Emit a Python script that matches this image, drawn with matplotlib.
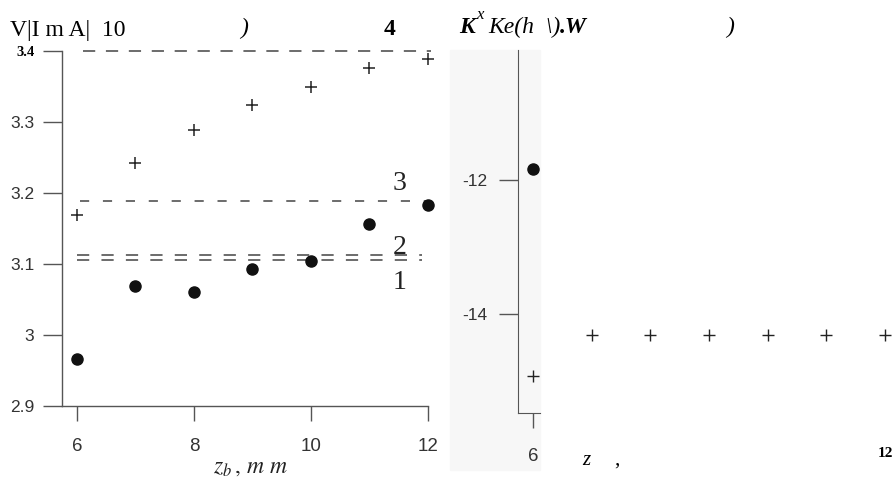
import matplotlib
matplotlib.use("Agg")
import matplotlib.pyplot as plt
from matplotlib.patches import Rectangle

# left panel: |Im A| vs z_b
z_left = [6, 7, 8, 9, 10, 11, 12]
plus_left = [3.169, 3.242, 3.289, 3.324, 3.349, 3.376, 3.389]
dots_left = [2.966, 3.069, 3.061, 3.093, 3.104, 3.156, 3.183]
level_top = 3.4
level_3 = 3.189
level_2 = 3.113
level_1 = 3.106
yticks_left = [2.9, 3.0, 3.1, 3.2, 3.3, 3.4]
ytick_labels_left = ["2.9", "3", "3.1", "3.2", "3.3", "3.4"]
xticks_left = [6, 8, 10, 12]

# right panel (mostly cut off in the scan)
z_right = [6, 7, 8, 9, 10, 11, 12]
plus_right = [-14.93, -14.31, -14.31, -14.31, -14.31, -14.31, -14.31]
dots_right_z = [6]
dots_right = [-11.84]
yticks_right = [-12, -14]

W, H = 893, 486
fig = plt.figure(figsize=(W / 100, H / 100), dpi=100)


def box(x0, y0, x1, y1):
    # pixel box (top-left origin) -> figure fraction
    return [x0 / W, 1 - y1 / H, (x1 - x0) / W, (y1 - y0) / H]


def ftext(x, y, s, **kw):
    fig.text(x / W, 1 - y / H, s, **kw)


# faint scan background behind the cut-off right panel
fig.patches.append(Rectangle((450 / W, 1 - 470 / H), 90 / W, 420 / H,
                             transform=fig.transFigure, color="#f7f7f7", zorder=-5))

sans = "Liberation Sans"
serif = "Liberation Serif"
tick_grey = "#555555"

# ---- left axes
ax = fig.add_axes(box(62, 51, 428, 406))
ax.set_xlim(5.745, 12.0)
ax.set_ylim(2.9, 3.4)
ax.patch.set_alpha(0)
for s in ["top", "right"]:
    ax.spines[s].set_visible(False)
for s in ["left", "bottom"]:
    ax.spines[s].set_color(tick_grey)
    ax.spines[s].set_linewidth(1)

dash_kw = dict(color="#444444", lw=1.1, clip_on=False)
ax.plot([6.1, 12.05], [level_top, level_top], dashes=(8, 7), **dash_kw)
ax.plot([6.05, 12.05], [level_3, level_3], dashes=(6, 9), **dash_kw)
ax.plot([6.0, 11.9], [level_2, level_2], dashes=(8, 8), **dash_kw)
ax.plot([6.0, 11.9], [level_1, level_1], dashes=(8, 8), **dash_kw)

ax.plot(z_left, plus_left, "+", color="#222222", ms=8, mew=1.1, ls="none", clip_on=False)
ax.plot(z_left, dots_left, "o", color="#111111", ms=8, ls="none", clip_on=False)

ax.set_xticks(xticks_left)
ax.set_xticklabels([str(t) for t in xticks_left], fontfamily=sans, fontsize=13.5, color="#333333")
ax.set_yticks(yticks_left)
ax.set_yticklabels(ytick_labels_left, fontfamily=sans, fontsize=12.5, color="#333333")
ax.tick_params(axis="x", direction="out", length=11, width=1, color=tick_grey, pad=12)
ax.tick_params(axis="y", direction="out", length=14, width=1, color=tick_grey, pad=6)
lab = ax.get_yticklabels()[-1]
lab.set_fontfamily(serif)
lab.set_fontweight("bold")
lab.set_fontsize(10.5)
lab.set_color("black")

for y, s in [(183, "3"), (247, "2"), (282, "1")]:
    ftext(400, y, s, fontfamily=serif, fontsize=20, ha="center", va="center", color="#222222")

ftext(250, 466, r"$z_b\,,\,m\ m$", fontsize=17, ha="center", va="center", color="#222222",
      math_fontfamily="stix")

# ---- right axes
ax2 = fig.add_axes(box(518, 50, 540, 413))
ax2.set_xlim(5.745, 6.12)
ax2.set_ylim(-15.48, -10.06)
ax2.patch.set_alpha(0)
for s in ["top", "right"]:
    ax2.spines[s].set_visible(False)
for s in ["left", "bottom"]:
    ax2.spines[s].set_color(tick_grey)
ax2.plot(z_right, plus_right, "+", color="#222222", ms=8, mew=1.0, ls="none", clip_on=False)
ax2.plot(dots_right_z, dots_right, "o", color="#111111", ms=8, ls="none", clip_on=False)
ax2.set_xticks([6])
ax2.set_xticklabels(["6"], fontfamily=sans, fontsize=13.5, color="#333333")
ax2.set_yticks(yticks_right)
ax2.set_yticklabels([str(t) for t in yticks_right], fontfamily=sans, fontsize=12.5, color="#333333")
ax2.tick_params(axis="x", direction="out", length=11, width=1, color=tick_grey, pad=14)
ax2.tick_params(axis="y", direction="out", length=14, width=1, color=tick_grey, pad=8)

# ---- loose text from the scan
ftext(10, 36, "V|I m A|  10", fontfamily=serif, fontsize=17, ha="left", va="baseline")
ftext(240, 34, ")", fontfamily=serif, fontsize=17, style="italic", ha="left", va="baseline")
ftext(384, 35, "4", fontfamily=serif, fontsize=17, weight="bold", ha="left", va="baseline")
ftext(459, 33, "K", fontfamily=serif, fontsize=17, weight="bold", style="italic", ha="left", va="baseline")
ftext(476, 19, "x", fontfamily=serif, fontsize=12, style="italic", ha="left", va="baseline")
ftext(488, 33, "Ke(h  \\)", fontfamily=serif, fontsize=17, style="italic", ha="left", va="baseline")
ftext(560, 33, ".W", fontfamily=serif, fontsize=17, weight="bold", style="italic", ha="left", va="baseline")
ftext(726, 33, ")", fontfamily=serif, fontsize=17, style="italic", ha="left", va="baseline")
ftext(582, 465, "z", fontfamily=serif, fontsize=15, style="italic", ha="left", va="baseline")
ftext(614, 465, ",", fontfamily=serif, fontsize=15, ha="left", va="baseline")
ftext(893, 457, "12", fontfamily=serif, fontsize=11, weight="bold", ha="right", va="baseline")

fig.savefig("out.png", dpi=100)
